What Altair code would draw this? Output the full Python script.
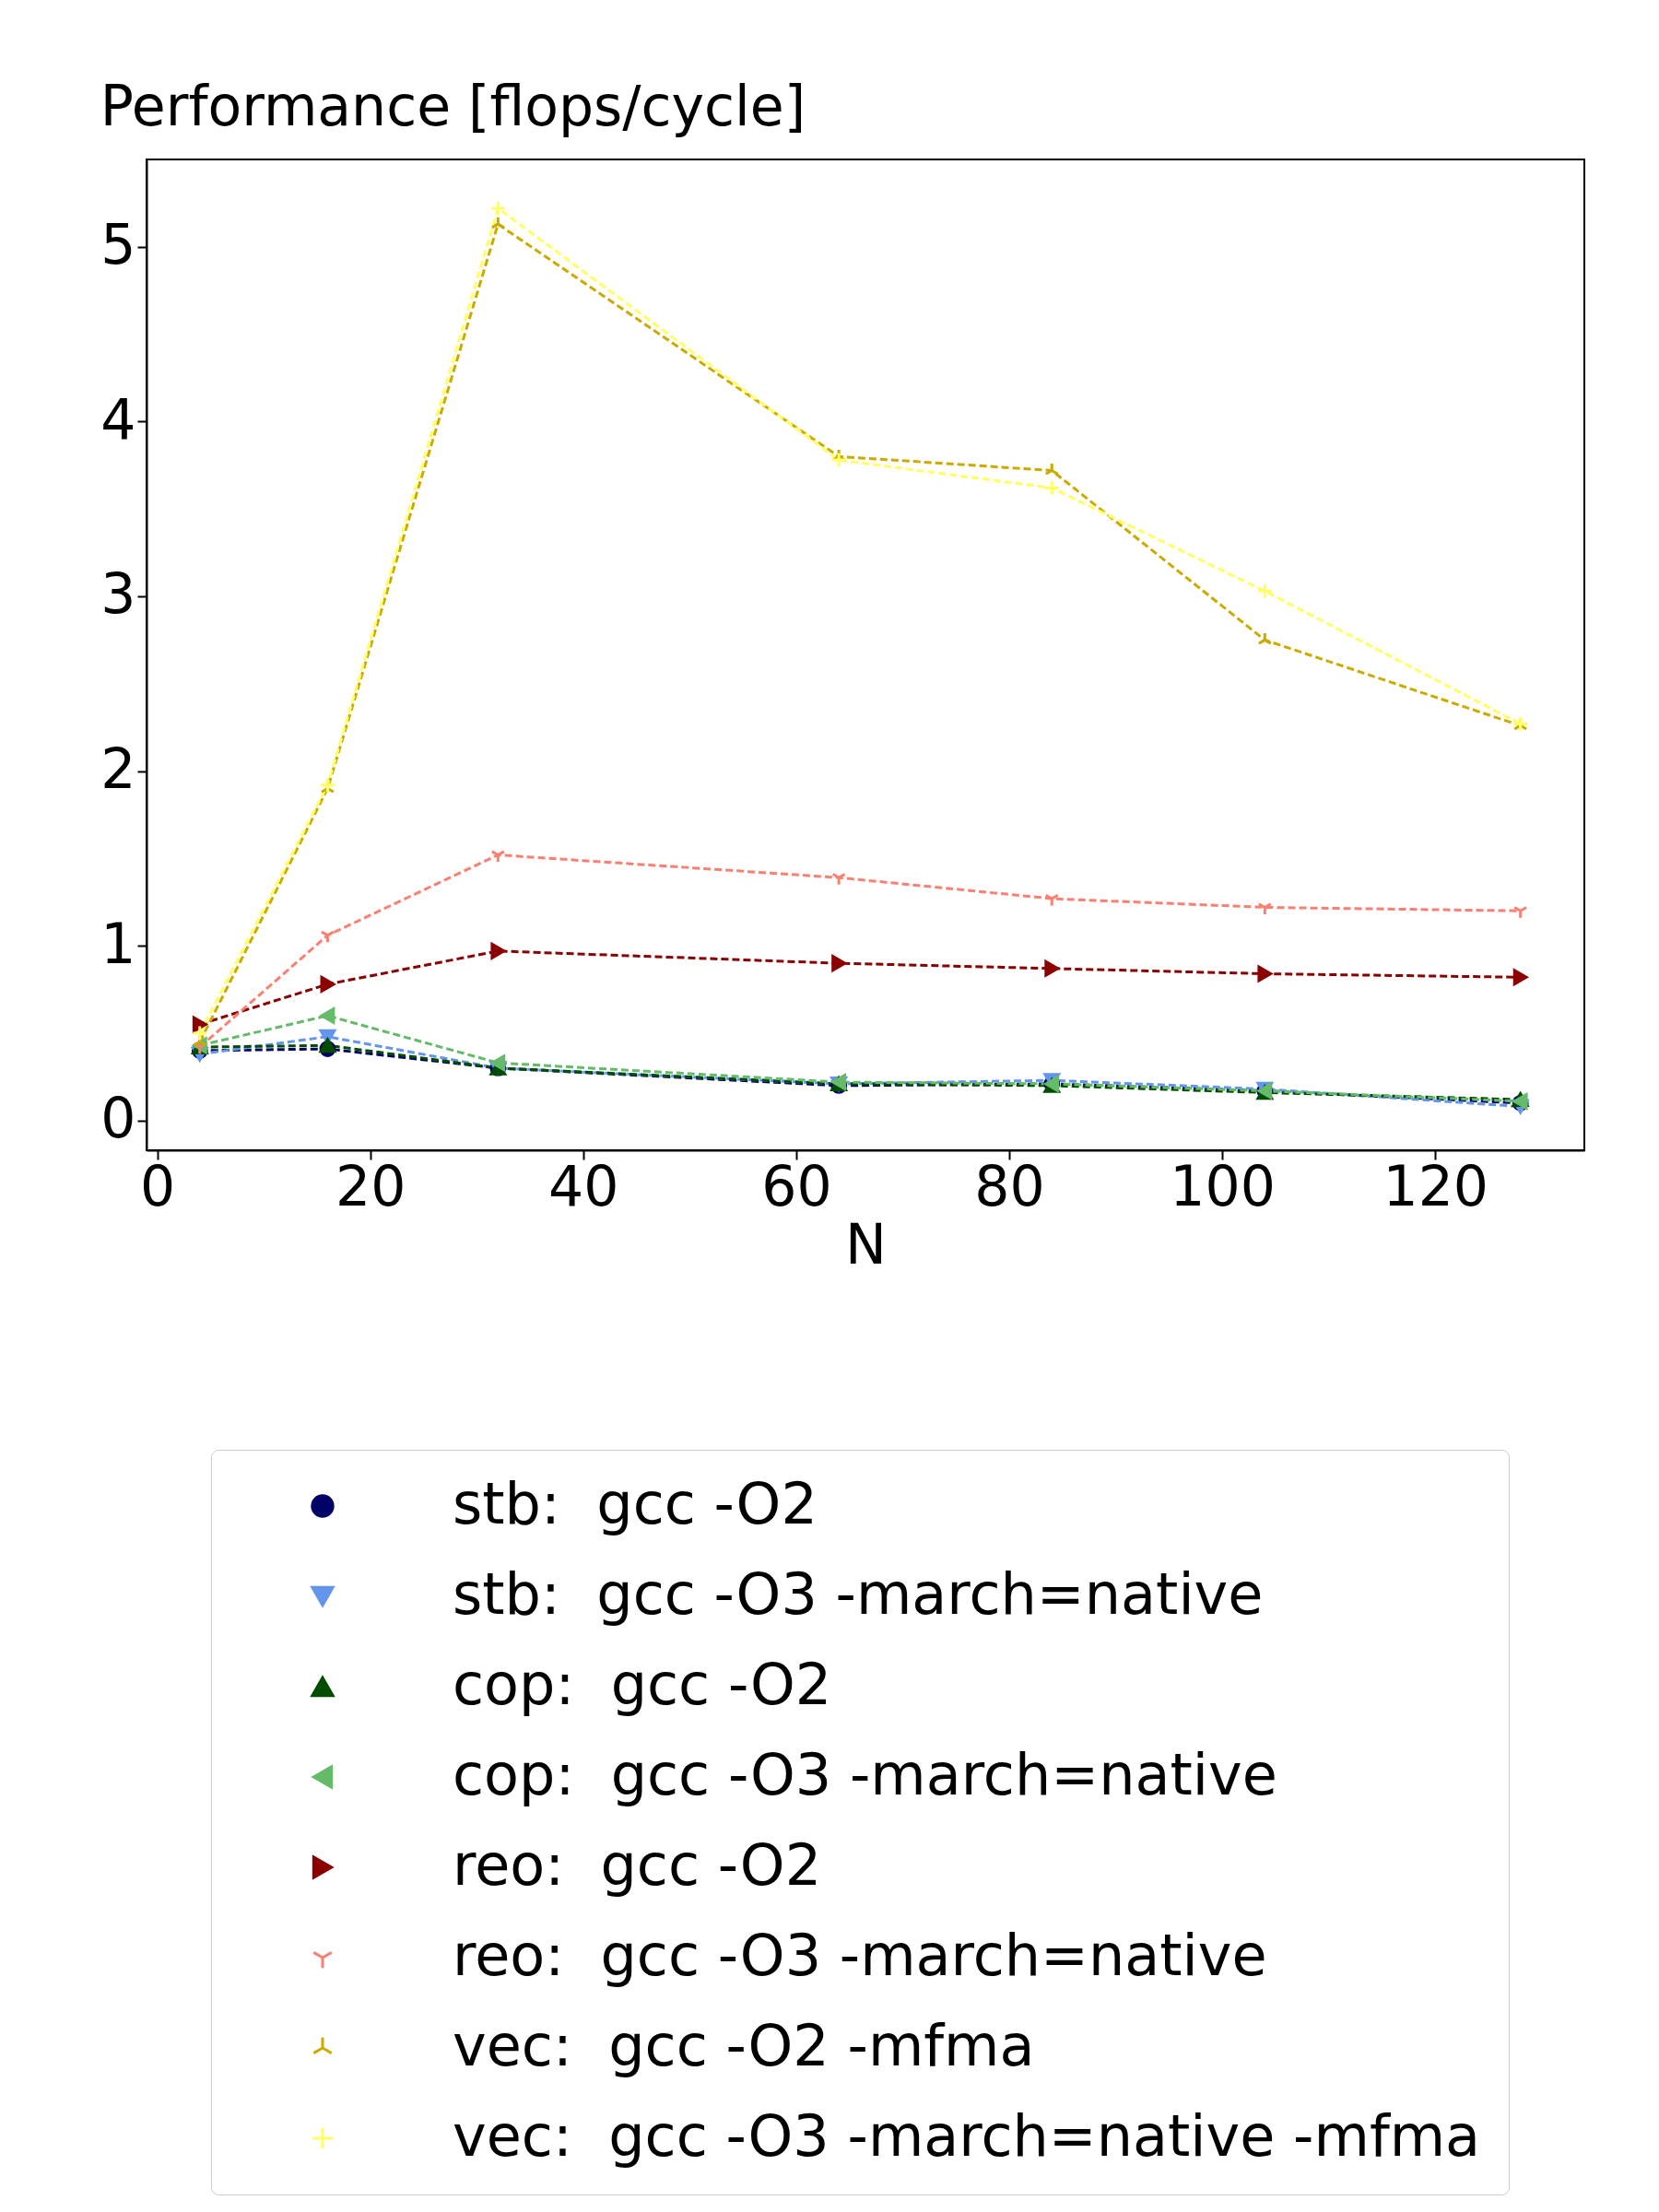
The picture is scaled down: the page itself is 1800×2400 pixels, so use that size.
import altair as alt
import pandas as pd

N = [4, 16, 32, 64, 84, 104, 128]
labels = ["stb:\u00a0 gcc -O2", "stb:\u00a0 gcc -O3 -march=native", "cop:\u00a0 gcc -O2",
          "cop:\u00a0 gcc -O3 -march=native", "reo:\u00a0 gcc -O2", "reo:\u00a0 gcc -O3 -march=native",
          "vec:\u00a0 gcc -O2 -mfma", "vec:\u00a0 gcc -O3 -march=native -mfma"]
values = [
    [0.40, 0.41, 0.30, 0.20, 0.21, 0.17, 0.10],
    [0.38, 0.48, 0.30, 0.21, 0.23, 0.18, 0.08],
    [0.42, 0.43, 0.30, 0.21, 0.20, 0.16, 0.12],
    [0.43, 0.60, 0.33, 0.22, 0.21, 0.17, 0.11],
    [0.55, 0.78, 0.97, 0.90, 0.87, 0.84, 0.82],
    [0.42, 1.06, 1.52, 1.39, 1.27, 1.22, 1.20],
    [0.45, 1.90, 5.13, 3.80, 3.72, 2.75, 2.26],
    [0.50, 1.92, 5.22, 3.78, 3.62, 3.03, 2.27],
]
colors = ["#000066", "#6495ED", "#004d00", "#66BB6A", "#8B0000", "#FA8072", "#CCAA00", "#FFFF66"]
shapes = ["circle", "triangle-down", "triangle-up", "triangle-left", "triangle-right",
          "M0,0L0,1M0,0L-0.87,-0.5M0,0L0.87,-0.5",
          "M0,0L0,-1M0,0L-0.87,0.5M0,0L0.87,0.5",
          "M-1,0L1,0M0,-1L0,1"]

rows = []
for lab, vals in zip(labels, values):
    for n, v in zip(N, vals):
        rows.append({"N": n, "perf": v, "series": lab})
df = pd.DataFrame(rows)

x = alt.X("N:Q", title="N", scale=alt.Scale(domain=[-1, 134], nice=False),
          axis=alt.Axis(values=[0, 20, 40, 60, 80, 100, 120]))
y = alt.Y("perf:Q", title=None, scale=alt.Scale(domain=[-0.17, 5.5], nice=False),
          axis=alt.Axis(values=[0, 1, 2, 3, 4, 5]))
color = alt.Color("series:N", scale=alt.Scale(domain=labels, range=colors), title=None,
                  legend=alt.Legend(orient="none", legendX=70, legendY=1400,
                                    labelFontSize=62, symbolSize=500, symbolStrokeWidth=3,
                                    symbolOpacity=1, rowPadding=36, padding=30,
                                    strokeColor="#cccccc", cornerRadius=8, labelLimit=1700,
                                    symbolOffset=60, labelOffset=110))
shape = alt.Shape("series:N", scale=alt.Scale(domain=labels, range=shapes), title=None)
fill = alt.Fill("series:N", scale=alt.Scale(domain=labels, range=colors), legend=None)

lines = alt.Chart(df).mark_line(strokeDash=[8, 4], strokeWidth=3).encode(
    x=x, y=y, color=color, detail="series:N")
pts = alt.Chart(df).mark_point(filled=False, size=220, strokeWidth=3, opacity=1).encode(
    x=x, y=y, color=color, shape=shape, fill=fill)

chart = alt.layer(lines, pts).properties(
    width=1560, height=1075,
    padding={"left": 100, "top": 80, "right": 20, "bottom": 20},
    title=alt.TitleParams("Performance [flops/cycle]", anchor="start", fontSize=60,
                          fontWeight="normal", font="DejaVu Sans", offset=24),
).configure_view(stroke="black", strokeWidth=2).configure_axis(
    labelFontSize=60, titleFontSize=60, labelFont="DejaVu Sans", titleFont="DejaVu Sans",
    titleFontWeight="normal", grid=False, domainColor="black", tickColor="black",
    labelColor="black", titleColor="black", tickSize=10, domainWidth=2, tickWidth=2,
).configure_legend(labelFont="DejaVu Sans", labelColor="black")

chart.save("out.html", embed_options={"renderer": "svg", "actions": False})
